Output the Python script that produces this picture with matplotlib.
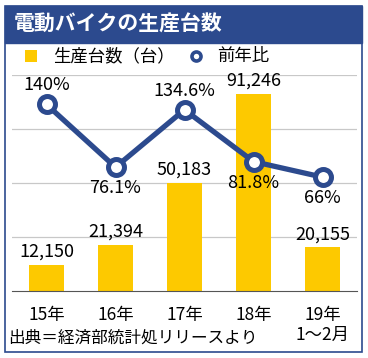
import matplotlib.pyplot as plt
from matplotlib.patches import Rectangle
from matplotlib.lines import Line2D

plt.rcParams['font.family'] = ['Noto Sans CJK JP', 'DejaVu Sans']

# data
years = ["15年", "16年", "17年", "18年", "19年\n1〜2月"]
units = [12150, 21394, 50183, 91246, 20155]
ratio = [140, 76.1, 134.6, 81.8, 66]
ratio_labels = ["140%", "76.1%", "134.6%", "81.8%", "66%"]
ratio_above = [True, False, True, False, False]

navy = "#2C4A8E"
gold = "#FDC900"

fig = plt.figure(figsize=(3.68, 3.58), dpi=100)

# frame and title bar
fig.patches.append(Rectangle((5 / 368, 1 - 352 / 358), 357 / 368, 346 / 358,
                             transform=fig.transFigure, fill=False,
                             edgecolor=navy, linewidth=1.2))
fig.patches.append(Rectangle((5 / 368, 1 - 43 / 358), 357 / 368, 37 / 358,
                             transform=fig.transFigure, facecolor=navy,
                             edgecolor=navy))
fig.text(14 / 368, 1 - 24 / 358, "電動バイクの生産台数", color="white",
         fontsize=15, fontweight="bold", va="center", ha="left")

# legend
fig.patches.append(Rectangle((25 / 368, 1 - 62 / 358), 12 / 368, 12 / 358,
                             transform=fig.transFigure, facecolor=gold,
                             edgecolor="none"))
fig.text(53 / 368, 1 - 56 / 358, "生産台数（台）", fontsize=12.5, va="center")
fig.lines.append(Line2D([196 / 368], [1 - 56 / 358], transform=fig.transFigure,
                        marker="o", markersize=6.5, markerfacecolor="white",
                        markeredgecolor=navy, markeredgewidth=2.6))
fig.text(217 / 368, 1 - 56 / 358, "前年比", fontsize=12.5, va="center")

ax = fig.add_axes([12 / 368, 1 - 291 / 358, 345 / 368, 216 / 358])
x = range(len(years))
ax.bar(x, units, width=0.5, color=gold, zorder=2)
ax.set_ylim(0, 100000)
ax.set_yticks([25000, 50000, 75000, 100000])
ax.set_xlim(-0.5, 4.5)
ax.grid(axis="y", color="#c8c8c8", linewidth=0.9, zorder=0)
ax.set_xticks(list(x))
ax.set_xticklabels(years, fontsize=12.5, linespacing=1.15)
ax.tick_params(axis="x", length=0, pad=11)
ax.tick_params(axis="y", length=0, labelleft=False)
for s in ["top", "left", "right"]:
    ax.spines[s].set_visible(False)
ax.spines["bottom"].set_color("#555555")

for i, v in enumerate(units):
    ax.annotate(f"{v:,}", (i, v), xytext=(0, 4), textcoords="offset pixels",
                ha="center", va="bottom", fontsize=13)

ax2 = ax.twinx()
ax2.set_ylim(-50, 170)
ax2.plot(list(x), ratio, color=navy, linewidth=3.8, marker="o", markersize=11.5,
         markerfacecolor="white", markeredgecolor=navy, markeredgewidth=3.6,
         zorder=3)
ax2.axis("off")
for i, v in enumerate(ratio):
    if ratio_above[i]:
        ax2.annotate(ratio_labels[i], (i, v), xytext=(0, 10),
                     textcoords="offset pixels", ha="center", va="bottom",
                     fontsize=13)
    else:
        ax2.annotate(ratio_labels[i], (i, v), xytext=(0, -12),
                     textcoords="offset pixels", ha="center", va="top",
                     fontsize=13)

fig.text(8 / 368, 1 - 338 / 358, "出典＝経済部統計処リリースより",
         fontsize=12, va="center", ha="left")

plt.savefig("out.png")
